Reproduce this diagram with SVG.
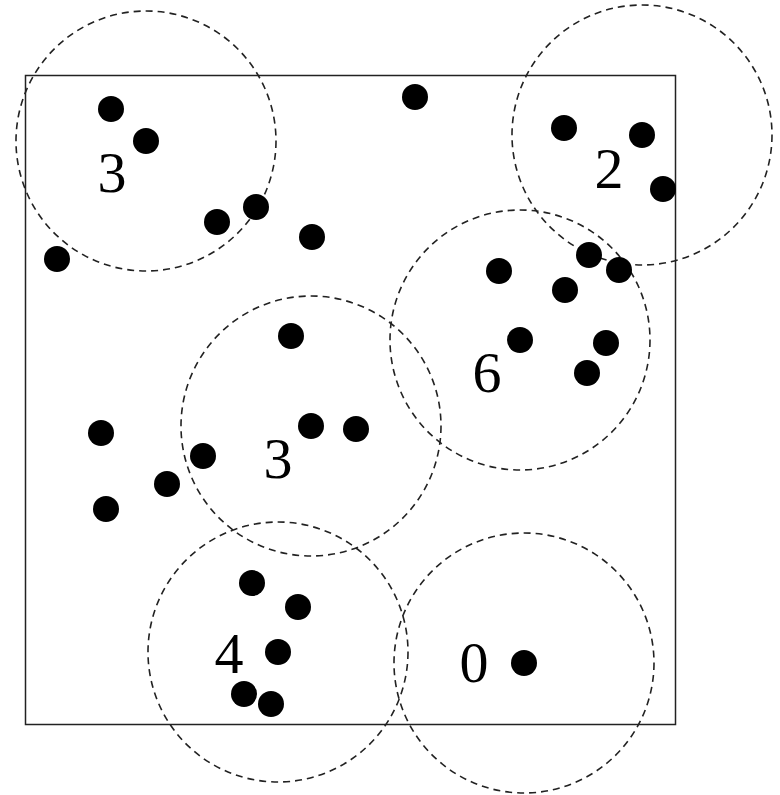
<svg xmlns="http://www.w3.org/2000/svg" width="780" height="795" viewBox="0 0 780 795">
<style>
.frame{fill:none;stroke:#222;stroke-width:1.5}
.zone{fill:none;stroke:#222;stroke-width:1.6;stroke-dasharray:7 5}
.pt{fill:#000}
.lbl{font-family:"Liberation Serif","Times New Roman",serif;font-size:58px;fill:#000;text-anchor:middle}
</style>
<rect width="780" height="795" fill="#fff"/>
<rect id="frame" class="frame" x="25.5" y="75.5" width="650" height="649"/>
<g id="connectors"></g>
<g id="zone-tl"><circle class="zone" cx="146" cy="141" r="130"/><text class="lbl" x="112" y="192">3</text></g>
<g id="zone-tr"><circle class="zone" cx="642" cy="135" r="130"/><text class="lbl" x="609" y="188">2</text></g>
<g id="zone-mr"><circle class="zone" cx="520" cy="340" r="130"/><text class="lbl" x="487" y="392">6</text></g>
<g id="zone-m"><circle class="zone" cx="311" cy="426" r="130"/><text class="lbl" x="278" y="478">3</text></g>
<g id="zone-bl"><circle class="zone" cx="278" cy="652" r="130"/><text class="lbl" x="229" y="673">4</text></g>
<g id="zone-br"><circle class="zone" cx="524" cy="663" r="130"/><text class="lbl" x="474" y="682">0</text></g>
<g id="points">
<circle class="pt" cx="111" cy="109" r="13"/>
<circle class="pt" cx="146" cy="141" r="13"/>
<circle class="pt" cx="217" cy="222" r="13"/>
<circle class="pt" cx="256" cy="207" r="13"/>
<circle class="pt" cx="57" cy="259" r="13"/>
<circle class="pt" cx="415" cy="97" r="13"/>
<circle class="pt" cx="312" cy="237" r="13"/>
<circle class="pt" cx="564" cy="128" r="13"/>
<circle class="pt" cx="642" cy="135" r="13"/>
<circle class="pt" cx="663" cy="189" r="13"/>
<circle class="pt" cx="589" cy="255" r="13"/>
<circle class="pt" cx="619" cy="270" r="13"/>
<circle class="pt" cx="499" cy="271" r="13"/>
<circle class="pt" cx="565" cy="290" r="13"/>
<circle class="pt" cx="520" cy="340" r="13"/>
<circle class="pt" cx="606" cy="343" r="13"/>
<circle class="pt" cx="587" cy="373" r="13"/>
<circle class="pt" cx="291" cy="336" r="13"/>
<circle class="pt" cx="311" cy="426" r="13"/>
<circle class="pt" cx="356" cy="429" r="13"/>
<circle class="pt" cx="101" cy="433" r="13"/>
<circle class="pt" cx="203" cy="456" r="13"/>
<circle class="pt" cx="167" cy="484" r="13"/>
<circle class="pt" cx="106" cy="509" r="13"/>
<circle class="pt" cx="252" cy="583" r="13"/>
<circle class="pt" cx="298" cy="607" r="13"/>
<circle class="pt" cx="278" cy="652" r="13"/>
<circle class="pt" cx="244" cy="694" r="13"/>
<circle class="pt" cx="271" cy="704" r="13"/>
<circle class="pt" cx="524" cy="663" r="13"/>
</g>
</svg>
